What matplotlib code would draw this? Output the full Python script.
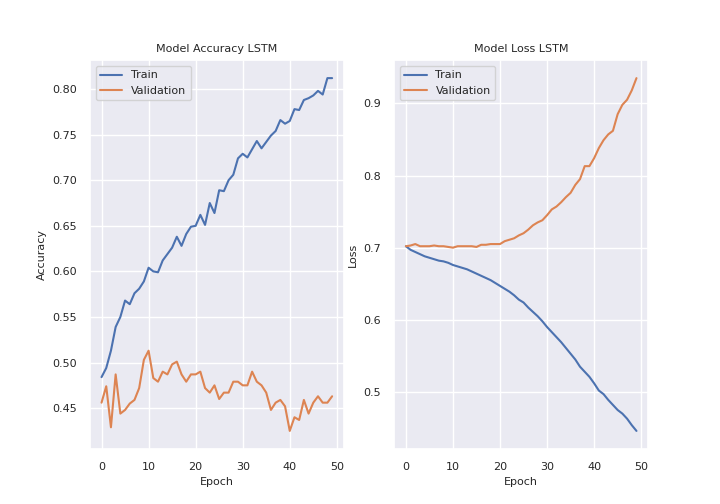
import matplotlib
matplotlib.use("Agg")
import matplotlib.pyplot as plt
import seaborn as sns

epochs = list(range(50))

train_acc = [0.484, 0.494, 0.513, 0.539, 0.550, 0.568, 0.564, 0.576, 0.581, 0.589,
             0.604, 0.600, 0.599, 0.612, 0.619, 0.626, 0.638, 0.628, 0.641, 0.649,
             0.650, 0.662, 0.651, 0.675, 0.664, 0.689, 0.688, 0.700, 0.706, 0.724,
             0.729, 0.725, 0.734, 0.743, 0.735, 0.742, 0.749, 0.754, 0.766, 0.762,
             0.765, 0.778, 0.777, 0.788, 0.790, 0.793, 0.798, 0.794, 0.812, 0.812]
val_acc = [0.456, 0.474, 0.429, 0.487, 0.444, 0.448, 0.455, 0.459, 0.472, 0.503,
           0.513, 0.483, 0.479, 0.490, 0.487, 0.498, 0.501, 0.487, 0.479, 0.487,
           0.487, 0.490, 0.472, 0.467, 0.475, 0.460, 0.467, 0.467, 0.479, 0.479,
           0.475, 0.475, 0.490, 0.479, 0.475, 0.467, 0.448, 0.456, 0.459, 0.452,
           0.425, 0.440, 0.437, 0.459, 0.444, 0.456, 0.463, 0.456, 0.456, 0.463]

train_loss = [0.702, 0.697, 0.694, 0.691, 0.688, 0.686, 0.684, 0.682, 0.681, 0.679,
              0.676, 0.674, 0.672, 0.670, 0.667, 0.664, 0.661, 0.658, 0.655, 0.651,
              0.647, 0.643, 0.639, 0.634, 0.628, 0.624, 0.617, 0.611, 0.605, 0.598,
              0.590, 0.583, 0.576, 0.569, 0.561, 0.553, 0.545, 0.535, 0.528, 0.521,
              0.512, 0.502, 0.497, 0.489, 0.482, 0.475, 0.470, 0.463, 0.454, 0.446]
val_loss = [0.702, 0.703, 0.705, 0.702, 0.702, 0.702, 0.703, 0.702, 0.702, 0.701,
            0.700, 0.702, 0.702, 0.702, 0.702, 0.701, 0.704, 0.704, 0.705, 0.705,
            0.705, 0.709, 0.711, 0.713, 0.717, 0.720, 0.725, 0.731, 0.735, 0.738,
            0.745, 0.753, 0.757, 0.763, 0.770, 0.776, 0.787, 0.795, 0.813, 0.813,
            0.824, 0.838, 0.849, 0.857, 0.862, 0.885, 0.898, 0.905, 0.918, 0.935]

sns.set_theme(style="darkgrid")
plt.rcParams['font.family'] = ['DejaVu Sans']

fig, (ax1, ax2) = plt.subplots(1, 2, figsize=(7.2, 5.04), dpi=100)

ax1.plot(epochs, train_acc, label='Train')
ax1.plot(epochs, val_acc, label='Validation')
ax1.set_title('Model Accuracy LSTM', fontsize=8)
ax1.set_xlabel('Epoch', fontsize=8)
ax1.set_ylabel('Accuracy', fontsize=8)
ax1.tick_params(labelsize=8)
ax1.legend(loc='upper left', fontsize=8)

ax2.plot(epochs, train_loss, label='Train')
ax2.plot(epochs, val_loss, label='Validation')
ax2.set_title('Model Loss LSTM', fontsize=8)
ax2.set_xlabel('Epoch', fontsize=8)
ax2.set_ylabel('Loss', fontsize=8)
ax2.tick_params(labelsize=8)
ax2.legend(loc='upper left', fontsize=8)

plt.subplots_adjust(left=0.125, right=0.9, bottom=0.11, top=0.88, wspace=0.2)
fig.savefig('out.png', dpi=100)
